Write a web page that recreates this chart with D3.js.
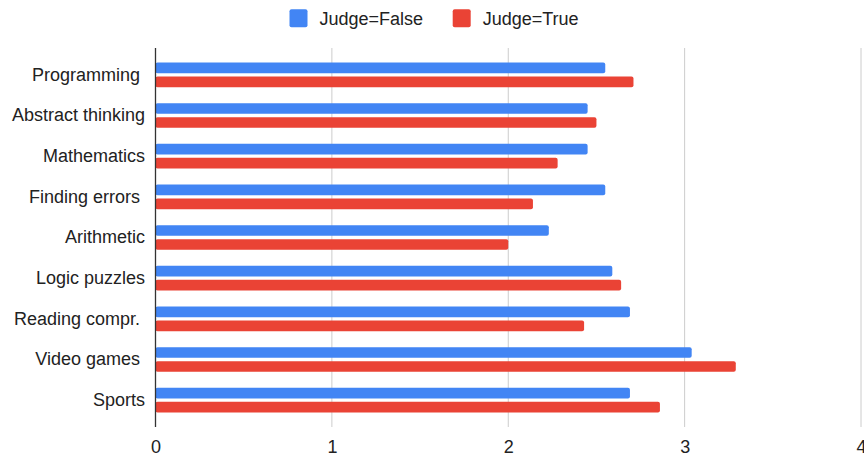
<!DOCTYPE html>
<html>
<head>
<meta charset="utf-8">
<script src="https://cdn.jsdelivr.net/npm/d3@7/dist/d3.min.js"></script>
<style>
  html, body { margin: 0; padding: 0; background: #fff; }
  svg { display: block; font-family: Arial, "Liberation Sans", sans-serif; }
  text { white-space: pre; }
</style>
</head>
<body>
<svg id="chart" width="864" height="456"></svg>
<script>
// Skill categories (some labels carry a trailing space, as in the source table)
const categories = [
  "Programming ", "Abstract thinking", "Mathematics", "Finding errors ",
  "Arithmetic", "Logic puzzles", "Reading compr. ", "Video games ", "Sports"
];
const seriesNames = ["Judge=False", "Judge=True"];
const judgeFalse = [2.55, 2.45, 2.45, 2.55, 2.23, 2.59, 2.69, 3.04, 2.69];
const judgeTrue  = [2.71, 2.50, 2.28, 2.14, 2.00, 2.64, 2.43, 3.29, 2.86];
const xTicks = [0, 1, 2, 3, 4];

const colors = { "Judge=False": "#4285F4", "Judge=True": "#EA4335" };
const values = { "Judge=False": judgeFalse, "Judge=True": judgeTrue };

const svg = d3.select("#chart");
const plot = { left: 155.5, right: 861, top: 48, bottom: 427 };

const x = d3.scaleLinear().domain([0, 4]).range([plot.left, plot.right]);
const y = d3.scaleBand().domain(categories).range([plot.top, plot.bottom])
  .paddingInner(0).paddingOuter(0.16);
const ySeries = d3.scaleBand().domain(seriesNames).range([0, y.bandwidth()])
  .paddingInner(0.24).paddingOuter(0.567);

// Vertical gridlines
svg.append("g").selectAll("line")
  .data(xTicks.filter(d => d > 0))
  .join("line")
  .attr("x1", d => x(d)).attr("x2", d => x(d))
  .attr("y1", plot.top).attr("y2", plot.bottom)
  .attr("stroke", "#cccccc").attr("stroke-width", 1);

// Bars
const rows = categories.map((c, i) => ({ c, i }));
const groups = svg.append("g").selectAll("g")
  .data(rows).join("g")
  .attr("transform", d => `translate(0,${y(d.c)})`);

groups.selectAll("rect")
  .data(d => seriesNames.map(s => ({ s, v: values[s][d.i] })))
  .join("rect")
  .attr("x", x(0))
  .attr("y", d => ySeries(d.s))
  .attr("width", d => x(d.v) - x(0))
  .attr("height", ySeries.bandwidth())
  .attr("rx", 2).attr("ry", 2)
  .attr("fill", d => colors[d.s]);

// Baseline axis at zero
svg.append("line")
  .attr("x1", x(0)).attr("x2", x(0))
  .attr("y1", plot.top).attr("y2", plot.bottom)
  .attr("stroke", "#333333").attr("stroke-width", 1.3);

// Bottom tick labels
const xAxis = svg.append("g")
  .attr("transform", `translate(0,${plot.bottom})`)
  .call(d3.axisBottom(x).tickValues(xTicks).tickFormat(d3.format("d")).tickSize(0).tickPadding(13));
xAxis.select(".domain").remove();
xAxis.selectAll("text")
  .attr("font-size", 18).attr("font-family", "Arial, 'Liberation Sans', sans-serif")
  .attr("fill", "#222222");

// Category labels
const yAxis = svg.append("g")
  .attr("transform", `translate(${plot.left - 10.5},0)`)
  .call(d3.axisLeft(y).tickSize(0).tickPadding(0));
yAxis.select(".domain").remove();
yAxis.selectAll("text")
  .attr("font-size", 18).attr("font-family", "Arial, 'Liberation Sans', sans-serif")
  .attr("fill", "#222222");

// Legend
const legendItems = [
  { s: "Judge=False", sx: 289.5, tx: 319.5 },
  { s: "Judge=True", sx: 452.7, tx: 482.7 }
];
const legend = svg.append("g");
legend.selectAll("rect").data(legendItems).join("rect")
  .attr("x", d => d.sx).attr("y", 9.3)
  .attr("width", 18).attr("height", 18)
  .attr("rx", 2)
  .attr("fill", d => colors[d.s]);
legend.selectAll("text").data(legendItems).join("text")
  .attr("x", d => d.tx).attr("y", 25)
  .attr("font-size", 18).attr("fill", "#222222")
  .text(d => d.s);
</script>
</body>
</html>
